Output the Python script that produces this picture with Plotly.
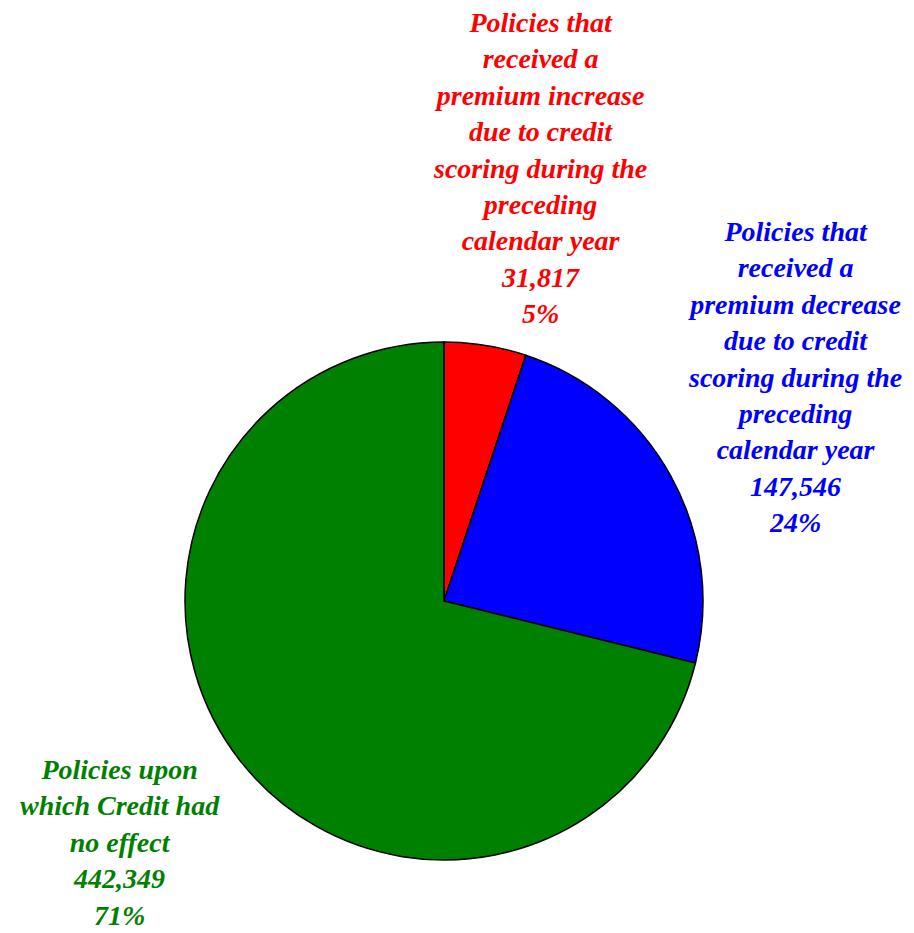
import plotly.graph_objects as go

labels = [
    "Policies that<br>received a<br>premium increase<br>due to credit<br>scoring during the<br>preceding<br>calendar year",
    "Policies that<br>received a<br>premium decrease<br>due to credit<br>scoring during the<br>preceding<br>calendar year",
    "Policies upon<br>which Credit had<br>no effect",
]
values = [31817, 147546, 442349]
colors = ["#ff0000", "#0000ff", "#008000"]

W, H = 914, 933
DX, DY = 8, 7  # page offset compensation
total = sum(values)

cx, cy, r = 444 - DX, 600 - DY, 259
fig = go.Figure(go.Pie(
    values=values,
    labels=[l.replace("<br>", " ") for l in labels],
    sort=False,
    direction="clockwise",
    rotation=0,
    marker=dict(colors=colors, line=dict(color="black", width=1.5)),
    textinfo="none",
    hoverinfo="label+value+percent",
    showlegend=False,
    domain=dict(x=[(cx - r) / W, (cx + r) / W], y=[1 - (cy + r) / H, 1 - (cy - r) / H]),
))

# label positions (pixel centres of each text block)
label_pos = [(540, 167), (795, 376), (120, 841)]
for lab, v, c, (px, py) in zip(labels, values, colors, label_pos):
    pct = round(100 * v / total)
    txt = f"{lab}<br>{v:,}<br>{pct}%"
    fig.add_annotation(
        x=(px - DX) / W, y=1 - (py - DY) / H, xref="paper", yref="paper",
        text=f"<b><i>{txt}</i></b>", showarrow=False,
        xanchor="center", yanchor="middle", align="center",
        font=dict(family="Liberation Serif, Times New Roman, serif", size=28, color=c),
    )

fig.update_layout(
    width=W, height=H,
    margin=dict(l=0, r=0, t=0, b=0),
    paper_bgcolor="white", plot_bgcolor="white",
)
fig.write_html("out.html")
